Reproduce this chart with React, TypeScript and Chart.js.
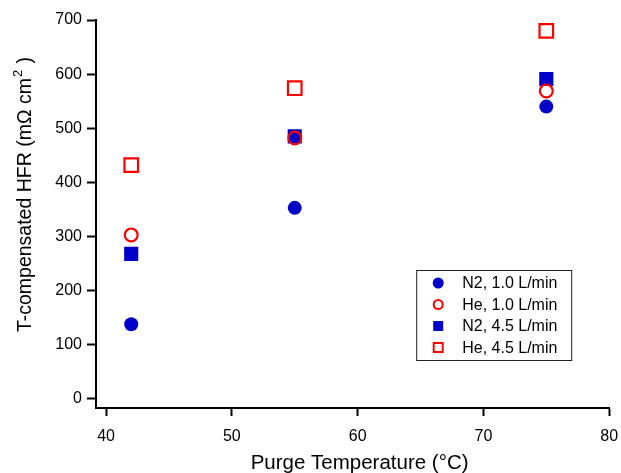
import React, { useEffect, useRef } from 'react';
import { Chart, registerables } from 'chart.js';

Chart.register(...registerables);

const temperatures = [42, 55, 75];
const n2Low = [138, 353, 540];
const heLow = [303, 482, 569];
const n2High = [268, 485, 591];
const heHigh = [432, 574, 680];
const seriesLabels = ['N2, 1.0 L/min', 'He, 1.0 L/min', 'N2, 4.5 L/min', 'He, 4.5 L/min'];
const xTicks = [40, 50, 60, 70, 80];
const yTicks = [0, 100, 200, 300, 400, 500, 600, 700];
const xTitle = 'Purge Temperature (°C)';

const BLUE = '#0000c8';
const RED = '#ff0000';
const FONT = '"Liberation Sans", Arial, sans-serif';

const styles = [
  { shape: 'circle', filled: true, color: BLUE },
  { shape: 'circle', filled: false, color: RED },
  { shape: 'rect', filled: true, color: BLUE },
  { shape: 'rect', filled: false, color: RED },
];

const legendPlugin = {
  id: 'insideLegend',
  afterDraw(chart: any) {
    const { ctx, chartArea } = chart;
    const left = chartArea.right - 193;
    const top = chartArea.bottom - 138;
    const w = 155;
    const h = 90;
    ctx.save();
    ctx.fillStyle = '#ffffff';
    ctx.fillRect(left, top, w, h);
    ctx.strokeStyle = '#222';
    ctx.lineWidth = 1;
    ctx.strokeRect(left + 0.5, top + 0.5, w, h);
    ctx.font = `16px ${FONT}`;
    ctx.textBaseline = 'middle';
    ctx.textAlign = 'left';
    seriesLabels.forEach((label, i) => {
      const cy = top + 13 + i * 21.5;
      const cx = left + 22;
      const s = styles[i];
      ctx.beginPath();
      if (s.shape === 'circle') {
        ctx.arc(cx, cy, s.filled ? 5.5 : 4.5, 0, Math.PI * 2);
      } else {
        if (s.filled) ctx.rect(cx - 5, cy - 5, 10, 10);
        else ctx.rect(cx - 4.5, cy - 4.5, 9, 9);
      }
      if (s.filled) {
        ctx.fillStyle = s.color;
        ctx.fill();
      } else {
        ctx.strokeStyle = s.color;
        ctx.lineWidth = 2;
        ctx.stroke();
      }
      ctx.fillStyle = '#000';
      ctx.fillText(label, left + 46, cy + 1);
    });
    ctx.restore();
  },
};

const titlesPlugin = {
  id: 'axisTitles',
  afterDraw(chart: any) {
    const { ctx, chartArea } = chart;
    ctx.save();
    ctx.fillStyle = '#000';
    // x title
    ctx.font = `20.5px ${FONT}`;
    ctx.textAlign = 'center';
    ctx.textBaseline = 'middle';
    ctx.fillText(xTitle, (chartArea.left + chartArea.right) / 2 + 7, 463);
    // y title with superscript
    const main = 'T-compensated HFR (mΩ cm';
    const sup = '2';
    const tail = ' )';
    ctx.font = `19.5px ${FONT}`;
    const wMain = ctx.measureText(main).width;
    const wTail = ctx.measureText(tail).width;
    ctx.font = `13px ${FONT}`;
    const wSup = ctx.measureText(sup).width + 1;
    const total = wMain + wSup + wTail;
    const cy = (chartArea.top + chartArea.bottom) / 2 - 19;
    ctx.translate(26, cy);
    ctx.rotate(-Math.PI / 2);
    ctx.textBaseline = 'middle';
    ctx.textAlign = 'left';
    let x = -total / 2;
    ctx.font = `19.5px ${FONT}`;
    ctx.fillText(main, x, 0);
    x += wMain + 1;
    ctx.font = `13px ${FONT}`;
    ctx.fillText(sup, x, -8);
    x += wSup;
    ctx.font = `19.5px ${FONT}`;
    ctx.fillText(tail, x, 0);
    ctx.restore();
  },
};

function makeDataset(label: string, values: number[], idx: number, order: number) {
  const s = styles[idx];
  return {
    label,
    data: temperatures.map((t, i) => ({ x: t, y: values[i] })),
    pointStyle: s.shape,
    pointRadius: s.shape === 'rect' ? (s.filled ? 10 : 9.6) : (s.filled ? 7 : 6.4),
    pointBorderWidth: s.filled ? 0 : 2.2,
    pointBackgroundColor: s.filled ? s.color : 'rgba(0,0,0,0)',
    pointBorderColor: s.color,
    showLine: false,
    order,
  };
}

export default function App() {
  const ref = useRef<HTMLCanvasElement | null>(null);
  useEffect(() => {
    if (!ref.current) return;
    const chart = new Chart(ref.current, {
      type: 'scatter',
      data: {
        datasets: [
          makeDataset(seriesLabels[0], n2Low, 0, 3),
          makeDataset(seriesLabels[1], heLow, 1, 1),
          makeDataset(seriesLabels[2], n2High, 2, 2),
          makeDataset(seriesLabels[3], heHigh, 3, 0),
        ] as any,
      },
      options: {
        responsive: false,
        animation: false,
        layout: { padding: { top: 20, right: 11, left: 0, bottom: 0 } },
        plugins: {
          legend: { display: false },
          tooltip: { enabled: false },
        },
        scales: {
          x: {
            type: 'linear',
            min: 39.2,
            max: 80,
            afterBuildTicks: (scale: any) => {
              scale.ticks = xTicks.map((v) => ({ value: v }));
            },
            afterFit: (scale: any) => {
              scale.height = 65;
              scale.paddingLeft = 0;
              scale.paddingRight = 0;
            },
            grid: {
              display: true,
              drawOnChartArea: false,
              drawTicks: true,
              tickLength: 8,
              tickWidth: 2,
              tickColor: '#000',
            },
            border: { display: true, color: '#000', width: 2 },
            ticks: {
              color: '#000',
              font: { family: FONT, size: 16 },
              padding: 11,
              maxRotation: 0,
              autoSkip: false,
            },
          },
          y: {
            type: 'linear',
            min: -16.7,
            max: 700,
            afterBuildTicks: (scale: any) => {
              scale.ticks = yTicks.map((v) => ({ value: v }));
            },
            afterFit: (scale: any) => {
              scale.width = 96;
              scale.paddingTop = 0;
              scale.paddingBottom = 0;
            },
            grid: {
              display: true,
              drawOnChartArea: false,
              drawTicks: true,
              tickLength: 9,
              tickWidth: 2,
              tickColor: '#000',
            },
            border: { display: true, color: '#000', width: 2 },
            ticks: {
              color: '#000',
              font: { family: FONT, size: 16 },
              padding: 5,
              autoSkip: false,
            },
          },
        },
      },
      plugins: [legendPlugin, titlesPlugin],
    });
    return () => chart.destroy();
  }, []);

  return (
    <div style={{ position: 'absolute', left: 0, top: 0, width: 621, height: 473, background: '#fff' }}>
      <canvas ref={ref} width={621} height={473} />
    </div>
  );
}
